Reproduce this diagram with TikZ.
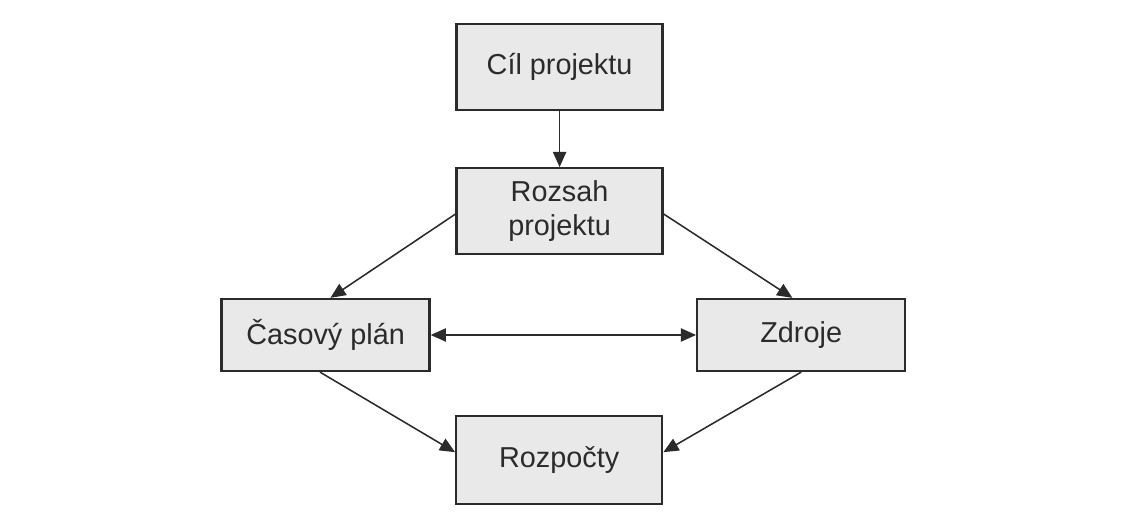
\documentclass[tikz,border=0pt]{standalone}
\usepackage{fontspec}
\setmainfont{Liberation Sans}
\usetikzlibrary{
    arrows.meta,
    positioning,
    calc
}
\definecolor{boxfill}{HTML}{E9E9E9}
\definecolor{inkgray}{HTML}{2B2B2B}
\tikzset{
    % --- Project planning block ---
    block/.style = {
        rectangle, draw=inkgray, line width=1.6pt, fill=boxfill,
        minimum width=5.15cm, minimum height=2.15cm,
        font=\fontsize{20.5}{24}\selectfont, align=center,
        text=inkgray
    },
    % --- Lower, flatter block ---
    flat block/.style = {
        block, minimum width=5.2cm, minimum height=1.8cm
    },
    % --- Data flow arrow ---
    data arrow/.style = {
        -{Triangle[length=3.8mm, width=3.3mm]}, line width=1.1pt, draw=inkgray
    },
    % --- Two-way arrow ---
    both arrow/.style = {
        data arrow, {Triangle[length=3.8mm, width=3.3mm]}-{Triangle[length=3.8mm, width=3.3mm]}
    }
}
\begin{document}
\begin{tikzpicture}

\useasboundingbox (0,0) rectangle (28.575,12.925);

% ---------------------------------------------------------
% Blocks
% ---------------------------------------------------------
\node[block] (cil) at (13.99, 11.25) {C\'{\i}l projektu};
\node[block, below=1.4cm of cil] (rozsah) {Rozsah\\projektu};

\node[flat block] (casovy) at (8.14, 4.55) {\v{C}asov\'{y} pl\'{a}n};
\node[flat block] (zdroje) at (20.03, 4.55) {Zdroje};

\node[block, minimum height=2.2cm] (rozpocty) at (13.98, 1.42) {Rozpo\v{c}ty};

% ---------------------------------------------------------
% Data flow arrows
% ---------------------------------------------------------
\draw[data arrow] (cil) -- (rozsah);
\draw[data arrow] ([yshift=-0.07cm]rozsah.west) -- ([xshift=0.12cm]casovy.north);
\draw[data arrow] ([yshift=-0.07cm]rozsah.east) -- ([xshift=-0.22cm]zdroje.north);
\draw[both arrow] (casovy) -- (zdroje);
\draw[data arrow] ([xshift=-0.14cm]casovy.south) -- ([yshift=0.2cm]rozpocty.west);
\draw[data arrow] (zdroje.south) -- ([yshift=0.2cm]rozpocty.east);

\end{tikzpicture}
\end{document}
